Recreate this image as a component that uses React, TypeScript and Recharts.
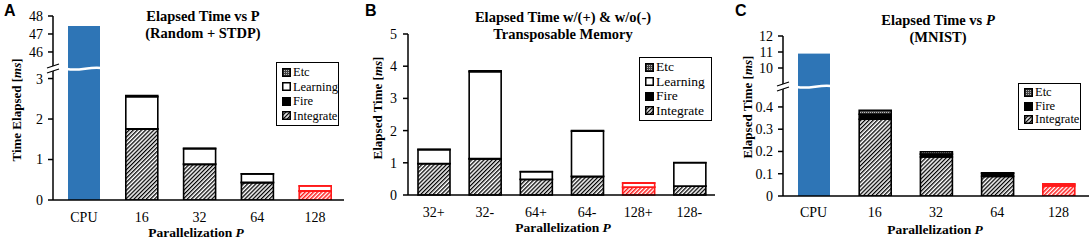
import React from 'react';
import { BarChart, Bar, XAxis, YAxis, Cell } from 'recharts';

// ---- data ----
const catsA = ['CPU', '16', '32', '64', '128'];
const cpuA = [47.45, null, null, null, null];
const integrateA = [null, 1.75, 0.88, 0.43, 0.22];
const fireA = [null, 0.01, 0.01, 0.005, 0.005];
const learningA = [null, 0.79, 0.38, 0.21, 0.12];
const etcA = [null, 0.03, 0.01, 0.005, 0.005];

const catsB = ['32+', '32-', '64+', '64-', '128+', '128-'];
const integrateB = [0.97, 1.12, 0.48, 0.57, 0.24, 0.27];
const fireB = [0.01, 0.01, 0.01, 0.01, 0.01, 0.01];
const learningB = [0.43, 2.7, 0.23, 1.4, 0.12, 0.72];
const etcB = [0.01, 0.03, 0.01, 0.02, 0.01, 0.01];

const catsC = ['CPU', '16', '32', '64', '128'];
const cpuC = [10.9, null, null, null, null];
const integrateC = [null, 0.345, 0.175, 0.088, 0.045];
const fireC = [null, 0.022, 0.013, 0.014, 0.007];
const etcC = [null, 0.018, 0.011, 0.002, 0.003];

const ticksUpperA = [46, 47, 48];
const ticksLowerA = [0, 1, 2, 3];
const ticksB = [0, 1, 2, 3, 4, 5];
const ticksUpperC = [10, 11, 12];
const ticksLowerC = [0, 0.1, 0.2, 0.3, 0.4];

const highlightA = '128';
const highlightB = '128+';
const highlightC = '128';

// ---- styles ----
const FONT = 'Liberation Serif';
const BLUE = '#2e75b6';
const RED = '#ff1a1a';
const Y_W = 30;

const SEG: Record<string, { fill: string; red: string; label: string }> = {
  integrate: { fill: 'url(#hatch)', red: 'url(#hatchRed)', label: 'Integrate' },
  fire: { fill: '#000', red: RED, label: 'Fire' },
  learning: { fill: '#fff', red: '#fff', label: 'Learning' },
  etc: { fill: 'url(#dots)', red: RED, label: 'Etc' },
};

const build = (cats: string[], series: Record<string, (number | null)[]>) =>
  cats.map((c, i) => {
    const row: Record<string, any> = { cat: c };
    Object.keys(series).forEach((k) => (row[k] = series[k][i]));
    return row;
  });

const lowerMaxA = 3.31;
const lowerMaxC = 0.503;

const upperA = build(catsA, { cpu: cpuA });
const lowerA = build(catsA, {
  cpu: cpuA.map((v) => (v == null ? null : Math.min(v, lowerMaxA))),
  integrate: integrateA, fire: fireA, learning: learningA, etc: etcA,
});
const dataB = build(catsB, { integrate: integrateB, fire: fireB, learning: learningB, etc: etcB });
const upperC = build(catsC, { cpu: cpuC });
const lowerC = build(catsC, {
  cpu: cpuC.map((v) => (v == null ? null : Math.min(v, lowerMaxC))),
  integrate: integrateC, fire: fireC, etc: etcC,
});

const tick = { fill: '#000', fontSize: 14, fontFamily: FONT };
const axisLine = { stroke: '#000', strokeWidth: 1.5 };

// CPU bar bottom half, with the white wavy break on its top
const BrokenTop = (props: any) => {
  const { x, y, width, height, fill } = props;
  if (!height || height <= 0) return null;
  return (
    <g>
      <rect x={x} y={y} width={width} height={height} fill={fill} />
      <path
        d={`M${x - 1},${y + 3} C${x + width * 0.35},${y + 5.5} ${x + width * 0.65},${y + 0.5} ${x + width + 1},${y + 2}`}
        stroke="#fff"
        strokeWidth={2.5}
        fill="none"
      />
    </g>
  );
};

const segments = (keys: string[], cats: string[], red: string) =>
  keys.map((k) => (
    <Bar
      key={k}
      dataKey={k}
      stackId="s"
      barSize={32}
      fill={SEG[k].fill}
      stroke="#000"
      strokeWidth={1.6}
      isAnimationActive={false}
    >
      {cats.map((c) => (
        <Cell key={c} fill={c === red ? SEG[k].red : SEG[k].fill} stroke={c === red ? RED : '#000'} />
      ))}
    </Bar>
  ));

const LegendBox = ({ left, top, width, fontSize, lineH, keys }: any) => (
  <div
    style={{
      position: 'absolute', left, top, width, boxSizing: 'border-box',
      border: '1.5px solid #000', background: '#fff', padding: '2px 0 2px 5px',
      fontFamily: FONT, fontSize, lineHeight: `${lineH}px`, color: '#000',
    }}
  >
    {keys.map((k: string) => (
      <div key={k} style={{ display: 'flex', alignItems: 'center', whiteSpace: 'nowrap' }}>
        <svg width={9} height={9} style={{ marginRight: 2 }}>
          <rect x={0.75} y={0.75} width={7.5} height={7.5} fill={SEG[k].fill} stroke="#000" strokeWidth={1.5} />
        </svg>
        {SEG[k].label}
      </div>
    ))}
  </div>
);

const BreakMark = ({ x, y }: { x: number; y: number }) => (
  <g>
    <polygon points={`${x - 6},${y + 2} ${x + 6},${y - 2} ${x + 6},${y + 3} ${x - 6},${y + 7}`} fill="#fff" />
    <line x1={x - 6} y1={y + 2} x2={x + 6} y2={y - 2} stroke="#000" strokeWidth={1.3} />
    <line x1={x - 6} y1={y + 7} x2={x + 6} y2={y + 3} stroke="#000" strokeWidth={1.3} />
  </g>
);

const YTitle = ({ x, y, text }: { x: number; y: number; text: string }) => (
  <text
    transform={`translate(${x},${y}) rotate(-90)`}
    textAnchor="middle"
    dominantBaseline="central"
    fontSize={13}
    fontWeight="bold"
    fontFamily={FONT}
  >
    {text} [<tspan fontStyle="italic">ms</tspan>]
  </text>
);

const XTitle = ({ x, y }: { x: number; y: number }) => (
  <text x={x} y={y} textAnchor="middle" dominantBaseline="central" fontSize={13.5} fontWeight="bold" fontFamily={FONT}>
    Parallelization <tspan fontStyle="italic">P</tspan>
  </text>
);

const Title = ({ x, y, children }: any) => (
  <text x={x} y={y} textAnchor="middle" dominantBaseline="central" fontSize={14.5} fontWeight="bold" fontFamily={FONT}>
    {children}
  </text>
);

const Letter = ({ x, y, t }: any) => (
  <text x={x} y={y} dominantBaseline="central" fontSize={16} fontWeight="bold" fontFamily="Liberation Sans">
    {t}
  </text>
);

// layout
const AX_A = 53;
const BRK_A = 66;
const LEFT_B = 360;
const AX_B = 408;
const LEFT_C = 730;
const AX_C = 783;
const BRK_C = 84;

export default function App() {
  return (
    <div style={{ position: 'absolute', left: 0, top: 0, width: 1091, height: 240, background: '#fff', overflow: 'hidden', fontFamily: FONT }}>
      <svg width={0} height={0} style={{ position: 'absolute' }}>
        <defs>
          <pattern id="hatch" patternUnits="userSpaceOnUse" width={2.9} height={2.9} patternTransform="rotate(45)">
            <rect width={2.9} height={2.9} fill="#fff" />
            <rect width={1.3} height={2.9} fill="#000" />
          </pattern>
          <pattern id="hatchRed" patternUnits="userSpaceOnUse" width={2.9} height={2.9} patternTransform="rotate(45)">
            <rect width={2.9} height={2.9} fill="#fff" />
            <rect width={1.5} height={2.9} fill={RED} />
          </pattern>
          <pattern id="dots" patternUnits="userSpaceOnUse" width={2} height={2}>
            <rect width={2} height={2} fill="#444" />
            <rect width={1} height={1} fill="#bbb" />
          </pattern>
        </defs>
      </svg>

      {/* Panel A */}
      <div style={{ position: 'absolute', left: 0, top: 0 }}>
        <BarChart width={360} height={BRK_A} data={upperA} margin={{ top: 16, right: 16, bottom: 0, left: AX_A - Y_W }}>
          <XAxis dataKey="cat" hide padding={{ left: 2, right: 0 }} />
          <YAxis type="number" domain={[45.22, 48]} ticks={ticksUpperA} interval={0} allowDataOverflow width={Y_W}
            tick={tick} tickSize={5} tickMargin={5} axisLine={axisLine} tickLine={axisLine} />
          <Bar dataKey="cpu" stackId="s" barSize={32} fill={BLUE} isAnimationActive={false} />
        </BarChart>
      </div>
      <div style={{ position: 'absolute', left: 0, top: 0 }}>
        <BarChart width={360} height={240} data={lowerA} margin={{ top: BRK_A, right: 16, bottom: 10, left: AX_A - Y_W }}>
          <XAxis dataKey="cat" padding={{ left: 2, right: 0 }} interval={0} tick={tick} tickLine={false}
            tickSize={0} tickMargin={12} axisLine={axisLine} />
          <YAxis type="number" domain={[0, lowerMaxA]} ticks={ticksLowerA} interval={0} allowDataOverflow width={Y_W}
            tick={tick} tickSize={5} tickMargin={5} axisLine={axisLine} tickLine={axisLine} />
          <Bar dataKey="cpu" stackId="s" barSize={32} fill={BLUE} shape={<BrokenTop />} isAnimationActive={false} />
          {segments(['integrate', 'fire', 'learning', 'etc'], catsA, highlightA)}
        </BarChart>
      </div>
      <LegendBox left={276} top={62} width={63} fontSize={12.5} lineH={14.5} keys={['etc', 'learning', 'fire', 'integrate']} />

      {/* Panel B */}
      <div style={{ position: 'absolute', left: LEFT_B, top: 0 }}>
        <BarChart width={370} height={240} data={dataB} margin={{ top: 34, right: 15, bottom: 15, left: AX_B - LEFT_B - Y_W }}>
          <XAxis dataKey="cat" interval={0} tick={tick} tickLine={false} tickSize={0} tickMargin={12} axisLine={axisLine} />
          <YAxis type="number" domain={[0, 5]} ticks={ticksB} interval={0} width={Y_W}
            tick={tick} tickSize={5} tickMargin={6} axisLine={axisLine} tickLine={axisLine} />
          {segments(['integrate', 'fire', 'learning', 'etc'], catsB, highlightB)}
        </BarChart>
      </div>
      <LegendBox left={639} top={57} width={73} fontSize={13.5} lineH={14.5} keys={['etc', 'learning', 'fire', 'integrate']} />

      {/* Panel C */}
      <div style={{ position: 'absolute', left: LEFT_C, top: 0 }}>
        <BarChart width={361} height={BRK_C} data={upperC} margin={{ top: 36, right: 2, bottom: 0, left: AX_C - LEFT_C - Y_W }}>
          <XAxis dataKey="cat" hide />
          <YAxis type="number" domain={[9, 12]} ticks={ticksUpperC} interval={0} allowDataOverflow width={Y_W}
            tick={tick} tickSize={5} tickMargin={5} axisLine={axisLine} tickLine={axisLine} />
          <Bar dataKey="cpu" stackId="s" barSize={32} fill={BLUE} isAnimationActive={false} />
        </BarChart>
      </div>
      <div style={{ position: 'absolute', left: LEFT_C, top: 0 }}>
        <BarChart width={361} height={240} data={lowerC} margin={{ top: BRK_C, right: 2, bottom: 14, left: AX_C - LEFT_C - Y_W }}>
          <XAxis dataKey="cat" interval={0} tick={tick} tickLine={false} tickSize={0} tickMargin={11} axisLine={axisLine} />
          <YAxis type="number" domain={[0, lowerMaxC]} ticks={ticksLowerC} interval={0} allowDataOverflow width={Y_W}
            tick={tick} tickSize={5} tickMargin={5} axisLine={axisLine} tickLine={axisLine} />
          <Bar dataKey="cpu" stackId="s" barSize={32} fill={BLUE} shape={<BrokenTop />} isAnimationActive={false} />
          {segments(['integrate', 'fire', 'etc'], catsC, highlightC)}
        </BarChart>
      </div>
      <LegendBox left={1018} top={83} width={63} fontSize={12.5} lineH={13.5} keys={['etc', 'fire', 'integrate']} />

      {/* titles, axis titles, axis breaks */}
      <svg width={1091} height={240} style={{ position: 'absolute', left: 0, top: 0, pointerEvents: 'none' }}>
        <Letter x={4} y={10} t="A" />
        <Letter x={365} y={10} t="B" />
        <Letter x={735} y={10} t="C" />

        <Title x={203} y={16}>Elapsed Time vs P</Title>
        <Title x={203} y={33}>(Random + STDP)</Title>
        <Title x={563} y={17}>Elapsed Time w/(+) &amp; w/o(-)</Title>
        <Title x={563} y={34}>Transposable Memory</Title>
        <Title x={938} y={20}>Elapsed Time vs <tspan fontStyle="italic">P</tspan></Title>
        <Title x={938} y={37}>(MNIST)</Title>

        <YTitle x={16} y={110} text="Time Elapsed" />
        <YTitle x={377} y={108} text="Elapsed Time" />
        <YTitle x={747} y={107} text="Elapsed Time" />

        <XTitle x={196} y={232} />
        <XTitle x={563} y={227} />
        <XTitle x={935} y={229} />

        <BreakMark x={AX_A} y={BRK_A} />
        <BreakMark x={AX_C} y={BRK_C} />
      </svg>
    </div>
  );
}
